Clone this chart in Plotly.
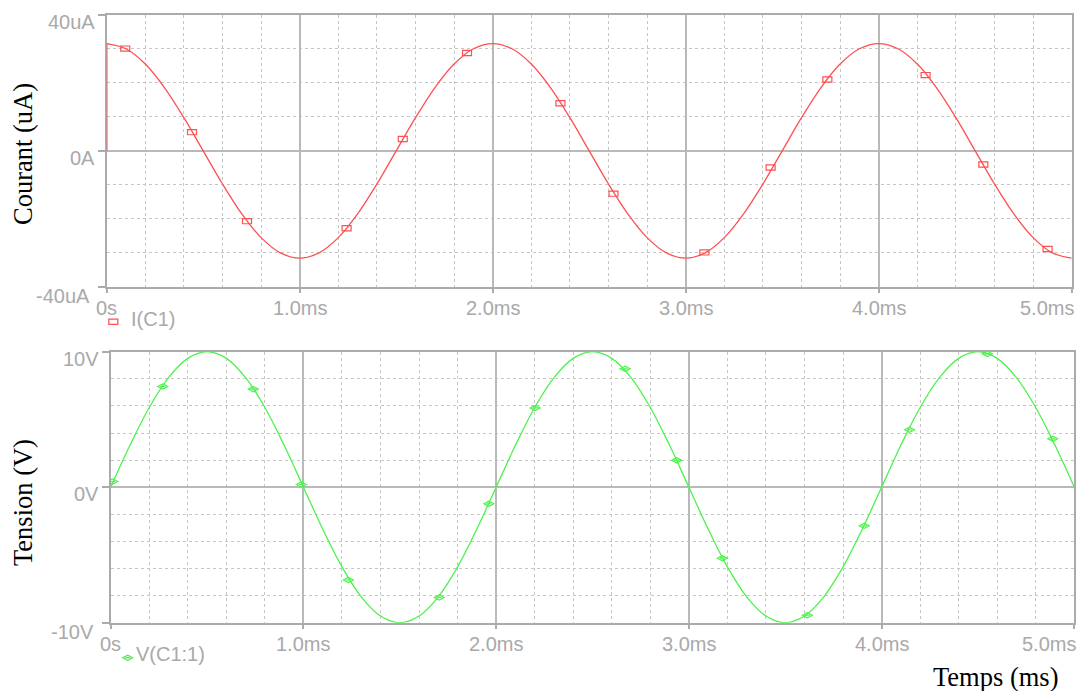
import plotly.graph_objects as go

W, H = 1089, 691

# ---- transient data: C1 driven by a 500 Hz sine ----
t_ms = [0.0, 0.1, 0.2, 0.3, 0.4, 0.5, 0.6, 0.7, 0.8, 0.9,
        1.0, 1.1, 1.2, 1.3, 1.4, 1.5, 1.6, 1.7, 1.8, 1.9,
        2.0, 2.1, 2.2, 2.3, 2.4, 2.5, 2.6, 2.7, 2.8, 2.9,
        3.0, 3.1, 3.2, 3.3, 3.4, 3.5, 3.6, 3.7, 3.8, 3.9,
        4.0, 4.1, 4.2, 4.3, 4.4, 4.5, 4.6, 4.7, 4.8, 4.9, 5.0]

# I(C1) in uA (starts from 0 A and jumps at t = 0)
i_start = 0.0
i_uA = [31.6, 30.05, 25.56, 18.57, 9.76, 0.0, -9.76, -18.57, -25.56, -30.05,
        -31.6, -30.05, -25.56, -18.57, -9.76, 0.0, 9.76, 18.57, 25.56, 30.05,
        31.6, 30.05, 25.56, 18.57, 9.76, 0.0, -9.76, -18.57, -25.56, -30.05,
        -31.6, -30.05, -25.56, -18.57, -9.76, 0.0, 9.76, 18.57, 25.56, 30.05,
        31.6, 30.05, 25.56, 18.57, 9.76, 0.0, -9.76, -18.57, -25.56, -30.05, -31.6]

# V(C1:1) in volts
v_V = [0.0, 3.09, 5.88, 8.09, 9.51, 10.0, 9.51, 8.09, 5.88, 3.09,
       0.0, -3.09, -5.88, -8.09, -9.51, -10.0, -9.51, -8.09, -5.88, -3.09,
       0.0, 3.09, 5.88, 8.09, 9.51, 10.0, 9.51, 8.09, 5.88, 3.09,
       0.0, -3.09, -5.88, -8.09, -9.51, -10.0, -9.51, -8.09, -5.88, -3.09,
       0.0, 3.09, 5.88, 8.09, 9.51, 10.0, 9.51, 8.09, 5.88, 3.09, 0.0]

# trace symbols placed along each waveform
i_mark_t = [0.096, 0.442, 0.727, 1.243, 1.534, 1.867, 2.351, 2.626, 3.097,
            3.440, 3.734, 4.243, 4.542, 4.875]
i_mark_v = [30.1, 5.5, -20.7, -22.8, 3.5, 28.8, 14.0, -12.6, -29.9,
            -4.9, 21.0, 22.3, -4.0, -28.9]
v_mark_t = [0.010, 0.270, 0.740, 0.989, 1.233, 1.705, 1.962, 2.202, 2.669,
            2.937, 3.174, 3.615, 3.910, 4.145, 4.549, 4.888]
v_mark_v = [0.42, 7.43, 7.24, 0.20, -6.85, -8.14, -1.22, 5.85, 8.74,
            1.98, -5.24, -9.45, -2.85, 4.24, 9.84, 3.57]

# axis ticks
x_ticks = [0, 1, 2, 3, 4, 5]
x_tick_text = ["0s", "1.0ms", "2.0ms", "3.0ms", "4.0ms", "5.0ms"]
i_ticks = [40, 0, -40]
i_tick_text = ["40uA", "0A", "-40uA"]
v_ticks = [10, 0, -10]
v_tick_text = ["10V", "0V", "-10V"]

RED = "#ff4f4f"
GREEN = "#4cf24c"
AXIS = "#ababab"
MAJOR = "#b9b9b9"
MINOR = "#c6c6c6"
LABEL = "#a9a9a9"
SANS = "Liberation Sans, Arial, sans-serif"
SERIF = "Liberation Serif, Times New Roman, serif"

# plot-area pixel boxes (left, right, top, bottom)
TOP = (106.7, 1071.7, 15.0, 286.7)
BOT = (110.7, 1074.3, 351.7, 622.7)


def px(x):
    return x / W


def py(y):
    return 1 - y / H


fig = go.Figure()

fig.add_trace(go.Scatter(x=t_ms, y=i_uA, mode="lines", xaxis="x", yaxis="y",
                         line=dict(color=RED, width=1.3, shape="spline"),
                         hoverinfo="skip", showlegend=False))
fig.add_trace(go.Scatter(x=[t_ms[0], t_ms[0]], y=[i_start, i_uA[0]], mode="lines",
                         xaxis="x", yaxis="y", line=dict(color=RED, width=1.6),
                         hoverinfo="skip", showlegend=False))
fig.add_trace(go.Scatter(x=t_ms, y=v_V, mode="lines", xaxis="x2", yaxis="y2",
                         line=dict(color=GREEN, width=1.3, shape="spline"),
                         hoverinfo="skip", showlegend=False))

shapes = []
# rectangular symbols on I(C1)
for t, v in zip(i_mark_t, i_mark_v):
    shapes.append(dict(type="rect", xref="x", yref="y", xsizemode="pixel",
                       ysizemode="pixel", xanchor=t, yanchor=v,
                       x0=-4.5, x1=4.5, y0=-2.6, y1=2.6,
                       line=dict(color=RED, width=1.2)))
# diamond symbols on V(C1:1)
DIAMOND = "M-5,0 L0,2.6 L5,0 L0,-2.6 Z M-2.5,0 L2.5,0"
for t, v in zip(v_mark_t, v_mark_v):
    shapes.append(dict(type="path", xref="x2", yref="y2", xsizemode="pixel",
                       ysizemode="pixel", xanchor=t, yanchor=v, path=DIAMOND,
                       line=dict(color=GREEN, width=1.2)))
# legend symbols
shapes.append(dict(type="rect", xref="paper", yref="paper", xsizemode="pixel",
                   ysizemode="pixel", xanchor=px(113.3), yanchor=py(321.7),
                   x0=-4.5, x1=4.5, y0=-2.6, y1=2.6, line=dict(color=RED, width=1.2)))
shapes.append(dict(type="path", xref="paper", yref="paper", xsizemode="pixel",
                   ysizemode="pixel", xanchor=px(127.7), yanchor=py(657.7),
                   path=DIAMOND, line=dict(color=GREEN, width=1.2)))

ann = []
tick_font = dict(family=SANS, size=20, color=LABEL)

# x tick labels for both panels (the last one ends at its tick)
for xr, box in (("x", TOP), ("x2", BOT)):
    for k, (v, s) in enumerate(zip(x_ticks, x_tick_text)):
        last = k == len(x_ticks) - 1
        ann.append(dict(text=s, xref=xr, yref="paper", x=v, y=py(box[3] + 21),
                        xanchor="right" if last else "center",
                        xshift=4 if last else 0, yanchor="middle",
                        showarrow=False, font=tick_font))

# y tick labels
for yr, box, vals, texts in (("y", TOP, i_ticks, i_tick_text),
                             ("y2", BOT, v_ticks, v_tick_text)):
    for v, s in zip(vals, texts):
        neg = v < 0
        ann.append(dict(text=s, xref="paper", yref=yr,
                        x=px(box[0] - (15 if neg else 10)), y=v,
                        yshift=-9 if neg else -7, xanchor="right", yanchor="middle",
                        showarrow=False, font=tick_font))

# legend texts
ann.append(dict(text="I(C1)", xref="paper", yref="paper", x=px(129), y=py(319),
                xanchor="left", yanchor="middle", showarrow=False, font=tick_font))
ann.append(dict(text="V(C1:1)", xref="paper", yref="paper", x=px(134), y=py(654),
                xanchor="left", yanchor="middle", showarrow=False, font=tick_font))

# axis titles
title_font = dict(family=SERIF, size=26.5, color="black")
ann.append(dict(text="Courant (uA)", xref="paper", yref="paper", x=px(23), y=py(154),
                xanchor="center", yanchor="middle", textangle=-90, showarrow=False,
                font=title_font))
ann.append(dict(text="Tension (V)", xref="paper", yref="paper", x=px(23), y=py(503),
                xanchor="center", yanchor="middle", textangle=-90, showarrow=False,
                font=title_font))
ann.append(dict(text="Temps (ms)", xref="paper", yref="paper", x=px(995), y=py(677),
                xanchor="center", yanchor="middle", showarrow=False, font=title_font))


def x_axis(box, anchor):
    return dict(domain=[px(box[0]), px(box[1])], anchor=anchor, range=[0, 5],
                tick0=0, dtick=1, showgrid=True, gridcolor=MAJOR, gridwidth=1.5,
                minor=dict(tick0=0, dtick=0.2, showgrid=True, gridcolor=MINOR,
                           griddash="dot", gridwidth=1),
                showline=True, linecolor=AXIS, linewidth=1.6, mirror=True,
                ticks="outside", ticklen=4, tickwidth=1.5, tickcolor=AXIS,
                showticklabels=False, zeroline=False, fixedrange=True,
                layer="below traces")


def y_axis(box, anchor, rng, major, minor):
    return dict(domain=[py(box[3]), py(box[2])], anchor=anchor, range=rng,
                tick0=0, dtick=major, showgrid=True, gridcolor=MAJOR, gridwidth=1.5,
                minor=dict(tick0=0, dtick=minor, showgrid=True, gridcolor=MINOR,
                           griddash="dot", gridwidth=1),
                showline=True, linecolor=AXIS, linewidth=1.6, mirror=True,
                ticks="outside", ticklen=7, tickwidth=1.5, tickcolor=AXIS,
                showticklabels=False, zeroline=False, fixedrange=True,
                layer="below traces")


fig.update_layout(
    width=W, height=H, margin=dict(l=0, r=0, t=0, b=0),
    paper_bgcolor="white", plot_bgcolor="white",
    xaxis=x_axis(TOP, "y"), yaxis=y_axis(TOP, "x", [-40, 40], 40, 10),
    xaxis2=x_axis(BOT, "y2"), yaxis2=y_axis(BOT, "x2", [-10, 10], 10, 2),
    shapes=shapes, annotations=ann, showlegend=False,
)

fig.write_html("out.html")
